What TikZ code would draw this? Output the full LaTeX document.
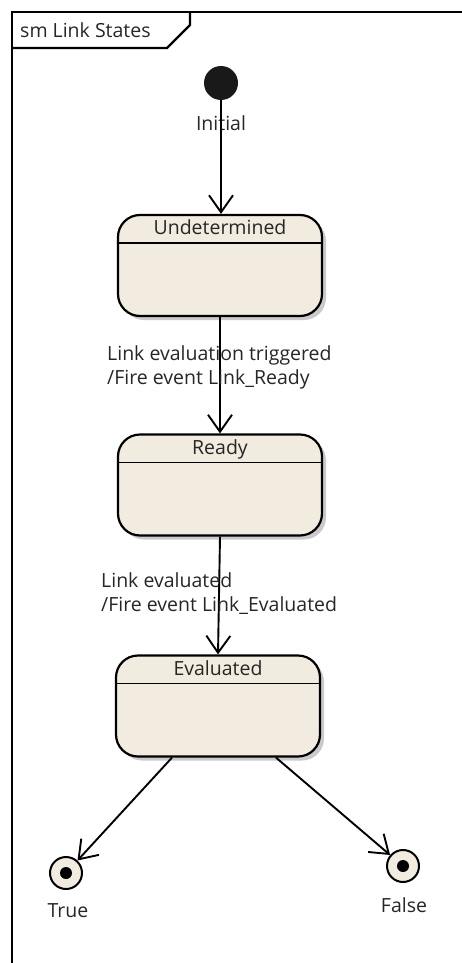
\documentclass[tikz,border=0pt]{standalone}
\usepackage{fontspec}
\setmainfont{Open Sans}
\usetikzlibrary{arrows.meta,shadows}

\definecolor{statefill}{RGB}{242,236,224}

\tikzset{
  state/.style={draw, line width=2.2pt, rounded corners=22pt, fill=statefill,
    minimum width=204pt, minimum height=101pt,
    drop shadow={shadow xshift=4pt, shadow yshift=-4pt, fill=black!35, opacity=.6}},
  statename/.style={font=\fontsize{19.5}{22}\selectfont, text=black!85, anchor=north, inner sep=0pt},
  trans/.style={line width=1.9pt, -{Straight Barb[length=17pt,width=24pt,line width=1.9pt]}},
  translabel/.style={font=\fontsize{19.5}{24}\selectfont, text=black!85, align=left, anchor=west, inner sep=0pt},
  endstate/.style={circle, draw, line width=2pt, fill=statefill, minimum size=32pt, inner sep=0pt},
  plain/.style={font=\fontsize{19.5}{22}\selectfont, text=black!85, inner sep=0pt}
}

\begin{document}
\begin{tikzpicture}[x=1pt, y=-1pt]
 \useasboundingbox (0,0) rectangle (462,963);
 % frame and tab
 \draw[line width=2.2pt] (12,963) -- (12,12) -- (462,12);
 \draw[line width=2.2pt] (12,48) -- (167,48) -- (190,25) -- (190,12);
 \node[plain, anchor=west] (frametitle) at (20,30) {sm Link States};

 % initial state
 \node[circle, fill=black!90, minimum size=34pt, inner sep=0pt] (init) at (221,83) {};
 \node[plain] (initlabel) at (221,123) {Initial};

 % states
 \node[state] (undet) at (220,265.5) {};
 \node[statename] (undetname) at ([yshift=-6pt]undet.north) {Undetermined};
 \draw[line width=1.8pt] ([yshift=-29pt]undet.north west) -- ([yshift=-29pt]undet.north east);

 \node[state] (ready) at (220,485) {};
 \node[statename] (readyname) at ([yshift=-6pt]ready.north) {Ready};
 \draw[line width=1.8pt] ([yshift=-29pt]ready.north west) -- ([yshift=-29pt]ready.north east);

 \node[state] (eval) at (218,706) {};
 \node[statename] (evalname) at ([yshift=-6pt]eval.north) {Evaluated};
 \draw[line width=1.8pt] ([yshift=-29pt]eval.north west) -- ([yshift=-29pt]eval.north east);

 % final states
 \node[endstate] (true) at (66,873) {};
 \fill (true) circle (6pt);
 \node[plain] (truelabel) at (68,911) {True};
 \node[endstate] (false) at (403,866) {};
 \fill (false) circle (6pt);
 \node[plain] (falselabel) at (404,905) {False};

 % transitions
 \draw[trans] (init) -- (undet.north -| init);
 \draw[trans] (undet.south) -- (ready.north);
 \draw[trans] (ready.south) -- (eval.north);
 \draw[trans] ([xshift=-46pt]eval.south) -- (true);
 \draw[trans] ([xshift=58pt]eval.south) -- (false);

 \node[translabel] (label1) at (107,367) {Link evaluation triggered\\/Fire event Link\_Ready};
 \node[translabel] (label2) at (101,594) {Link evaluated\\/Fire event Link\_Evaluated};
\end{tikzpicture}
\end{document}
